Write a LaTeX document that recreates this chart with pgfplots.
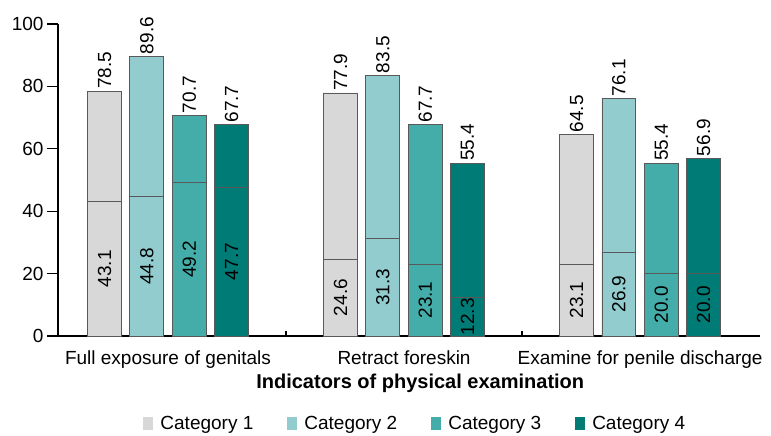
\documentclass[border=0pt]{standalone}
\usepackage{fontspec}
\setmainfont{Liberation Sans}
\usepackage{pgfplots}
\pgfplotsset{compat=1.18}
\definecolor{cOne}{RGB}{216,216,216}
\definecolor{cTwo}{RGB}{146,204,206}
\definecolor{cThree}{RGB}{68,173,169}
\definecolor{cFour}{RGB}{0,123,118}
\newcommand\chartfont{\fontsize{19}{22}\selectfont}
\pgfplotsset{
  catlegend/.style={legend image code/.code={\path[##1,draw=none] (0pt,-6pt) rectangle (10pt,7pt);}},
  total/.style={draw=black!65, line width=0.7pt, catlegend,
    nodes near coords={\pgfmathprintnumber[fixed,fixed zerofill,precision=1]{\pgfplotspointmeta}},
    every node near coord/.append style={rotate=90, anchor=west, font=\chartfont, inner sep=2pt, text=black}},
  lower/.style={draw=black!65, line width=0.7pt, forget plot,
    visualization depends on={rawy \as \rawy},
    nodes near coords={\pgfmathprintnumber[fixed,fixed zerofill,precision=1]{\pgfplotspointmeta}},
    every node near coord/.append style={shift={(axis direction cs:0,-\rawy/2)}, rotate=90, anchor=center, font=\chartfont, text=black}},
}
\begin{document}
\begin{tikzpicture}
\useasboundingbox (-58pt,-100pt) rectangle (713pt,336pt);
\begin{axis}[
  at={(0pt,0pt)}, anchor=south west,
  scale only axis, width=702pt, height=312pt,
  ymin=0, ymax=100, xmin=-0.466, xmax=2.508,
  clip=false,
  axis x line=bottom, axis y line=left,
  axis line style={-, line width=1.6pt},
  ytick={0,20,...,100},
  tick align=outside, major tick length=11pt,
  y tick style={line width=1.2pt, black},
  xtick={0,1,2},
  xticklabels={Full exposure of genitals, Retract foreskin, Examine for penile discharge},
  x tick style={draw=none},
  extra x ticks={0.5,1.5}, extra x tick labels={},
  extra x tick style={tick align=inside, major tick length=5pt,
    every x tick/.style={draw=black, line width=1.2pt}},
  tick label style={font=\chartfont},
  /pgf/number format/assume math mode=true,
  xlabel={Indicators of physical examination},
  xlabel style={at={(rel axis cs:0.516,-0.152)}, anchor=center,
    font=\fontsize{20}{24}\selectfont\bfseries},
  ybar, bar width=0.144,
  legend style={at={(0.509,-0.281)}, anchor=center, legend columns=4,
    draw=none, fill=none, font=\chartfont,
    /tikz/every odd column/.append style={column sep=5pt},
    /tikz/every even column/.append style={column sep=32pt}},
]
% totals
\addplot[total, fill=cOne, bar shift=-0.269] coordinates {(0,78.5) (1,77.9) (2,64.5)};
\addlegendentry{Category 1}
\addplot[total, fill=cTwo, bar shift=-0.090] coordinates {(0,89.6) (1,83.5) (2,76.1)};
\addlegendentry{Category 2}
\addplot[total, fill=cThree, bar shift=0.090] coordinates {(0,70.7) (1,67.7) (2,55.4)};
\addlegendentry{Category 3}
\addplot[total, fill=cFour, bar shift=0.269] coordinates {(0,67.7) (1,55.4) (2,56.9)};
\addlegendentry{Category 4}
% lower parts
\addplot[lower, fill=cOne, bar shift=-0.269] coordinates {(0,43.1) (1,24.6) (2,23.1)};
\addplot[lower, fill=cTwo, bar shift=-0.090] coordinates {(0,44.8) (1,31.3) (2,26.9)};
\addplot[lower, fill=cThree, bar shift=0.090] coordinates {(0,49.2) (1,23.1) (2,20.0)};
\addplot[lower, fill=cFour, bar shift=0.269] coordinates {(0,47.7) (1,12.3) (2,20.0)};
\end{axis}
\end{tikzpicture}
\end{document}
